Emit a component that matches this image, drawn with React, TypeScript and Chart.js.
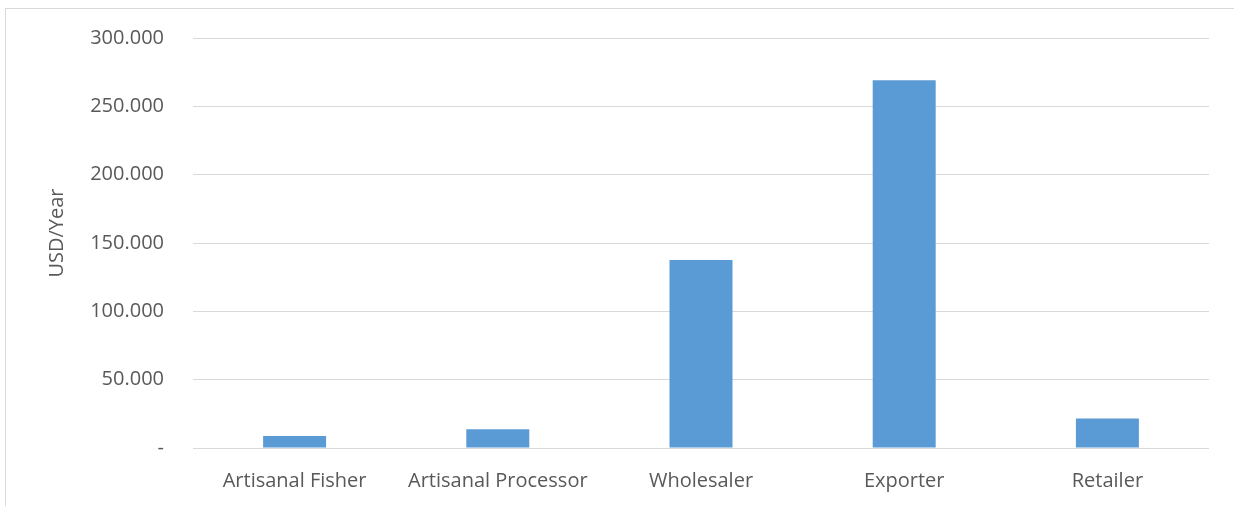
import React, { useEffect, useRef } from "react";
import { Chart, registerables } from "chart.js";

Chart.register(...registerables);

const categories = ["Artisanal Fisher", "Artisanal Processor", "Wholesaler", "Exporter", "Retailer"];
const incomeValues = [8800, 13800, 137500, 269000, 21500];
const yTickValues = [0, 50000, 100000, 150000, 200000, 250000, 300000];
const yTickLabels = ["-", "50.000", "100.000", "150.000", "200.000", "250.000", "300.000"];
const yAxisTitle = "USD/Year";

const FONT_FAMILY = "'Open Sans', sans-serif";

const yTitlePlugin = {
  id: "yTitlePlugin",
  afterDraw(chart: any) {
    const ctx = chart.ctx;
    const area = chart.chartArea;
    ctx.save();
    ctx.translate(57, (area.top + area.bottom) / 2 - 10);
    ctx.rotate(-Math.PI / 2);
    ctx.font = `20px ${FONT_FAMILY}`;
    ctx.fillStyle = "#595959";
    ctx.textAlign = "center";
    ctx.textBaseline = "middle";
    ctx.fillText(yAxisTitle, 0, 0);
    ctx.restore();
  },
};

export default function App() {
  const ref = useRef<HTMLCanvasElement | null>(null);

  useEffect(() => {
    if (!ref.current) return;
    const font = { family: FONT_FAMILY, size: 20 };
    const chart = new Chart(ref.current, {
      type: "bar",
      data: {
        labels: categories,
        datasets: [
          {
            data: incomeValues,
            backgroundColor: "#5b9bd5",
            barPercentage: 0.31,
            categoryPercentage: 1,
          },
        ],
      },
      plugins: [yTitlePlugin],
      options: {
        animation: false,
        responsive: false,
        maintainAspectRatio: false,
        layout: { padding: { top: 38, right: 25, bottom: 0, left: 0 } },
        plugins: { legend: { display: false }, tooltip: { enabled: false } },
        scales: {
          x: {
            grid: { display: false },
            border: { display: false },
            ticks: { color: "#595959", font, padding: 13, maxRotation: 0, autoSkip: false },
            afterFit: (s: any) => {
              s.height = 58;
            },
          },
          y: {
            min: 0,
            max: 300000,
            afterBuildTicks: (s: any) => {
              s.ticks = yTickValues.map((v) => ({ value: v }));
            },
            grid: { color: "#d9d9d9", lineWidth: 1, drawTicks: false },
            border: { display: false },
            ticks: {
              color: "#595959",
              font,
              padding: 29,
              callback: (v: any) => {
                const i = yTickValues.indexOf(Number(v));
                return i >= 0 ? yTickLabels[i] : "";
              },
            },
            afterFit: (s: any) => {
              s.width = 193;
              s.paddingTop = 0;
              s.paddingBottom = 0;
            },
          },
        },
      },
    });
    return () => chart.destroy();
  }, []);

  return (
    <div style={{ position: "fixed", left: 0, top: 0, width: 1234, height: 506, overflow: "hidden", background: "#fff" }}>
      <div
        style={{
          position: "absolute",
          left: 5,
          top: 8,
          width: 1260,
          height: 520,
          border: "1px solid #d9d9d9",
          boxSizing: "border-box",
        }}
      />
      <canvas ref={ref} width={1234} height={506} style={{ position: "absolute", left: 0, top: 0 }} />
    </div>
  );
}
